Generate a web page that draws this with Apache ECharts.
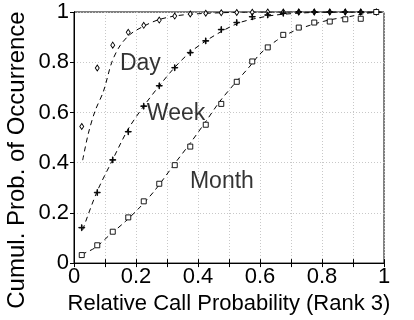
<!DOCTYPE html>
<html>
<head>
<meta charset="utf-8">
<script src="https://cdn.jsdelivr.net/npm/echarts@6/dist/echarts.min.js"></script>
<style>
  html, body { margin: 0; padding: 0; background: #fff; }
  #chart { width: 414px; height: 320px; }
</style>
</head>
<body>
<div id="chart"></div>
<script>
// relative call probability where the markers sit
const probX = [0.025, 0.075, 0.125, 0.175, 0.225, 0.275, 0.325, 0.375, 0.425, 0.475,
               0.525, 0.575, 0.625, 0.675, 0.725, 0.775, 0.825, 0.875, 0.925, 0.975];

const dayObs   = [0.544, 0.777, 0.868, 0.919, 0.947, 0.968, 0.984, 0.992, 0.995, 0.997,
                  0.998, 0.999, 1, 1, 1, 1, 1, 1, 1, 1];
const weekObs  = [0.141, 0.281, 0.411, 0.523, 0.625, 0.706, 0.778, 0.838, 0.885, 0.930,
                  0.958, 0.981, 0.988, 0.995, 1, 1, 1, 1, 1, 1];
const monthObs = [0.032, 0.071, 0.125, 0.182, 0.246, 0.316, 0.390, 0.464, 0.551, 0.634,
                  0.722, 0.803, 0.859, 0.909, 0.938, 0.958, 0.962, 0.971, 0.973, 1.0];

// dashed fit curves
const dayFitX   = [0.028, 0.046, 0.068, 0.095, 0.122, 0.148, 0.181, 0.224, 0.272, 0.33, 0.4, 0.5, 0.6, 0.8, 1.0];
const dayFitY   = [0.41, 0.515, 0.606, 0.684, 0.80, 0.865, 0.911, 0.943, 0.969, 0.985, 0.993, 0.998, 1, 1, 1];
const weekFitX  = [0.028, 0.073, 0.122, 0.175, 0.229, 0.277, 0.326, 0.374, 0.433, 0.487, 0.535, 0.589, 0.65, 0.75, 0.85, 1.0];
const weekFitY  = [0.132, 0.281, 0.405, 0.534, 0.632, 0.709, 0.781, 0.839, 0.891, 0.93, 0.958, 0.975, 0.988, 0.997, 1, 1];
const monthFitX = [0.025, 0.068, 0.116, 0.165, 0.213, 0.261, 0.326, 0.374, 0.423, 0.471, 0.519, 0.568, 0.6, 0.654, 0.707, 0.761, 0.826, 0.89, 0.944, 1.0];
const monthFitY = [0.035, 0.061, 0.113, 0.165, 0.223, 0.29, 0.398, 0.476, 0.560, 0.645, 0.716, 0.785, 0.833, 0.887, 0.923, 0.947, 0.969, 0.982, 0.995, 1.0];

// in-plot labels
const tagNames = ['Day', 'Week', 'Month'];
const tagX = [0.148, 0.235, 0.374];
const tagY = [0.795, 0.595, 0.325];

const FONT = "'Liberation Sans', Arial, Helvetica, sans-serif";
const zip = (xs, ys) => xs.map((x, i) => [x, ys[i]]);

const chart = echarts.init(document.getElementById('chart'), null, { renderer: 'canvas' });

const fitLine = (xs, ys) => ({
  type: 'line', data: zip(xs, ys), showSymbol: false, smooth: 0.3,
  lineStyle: { color: '#000', width: 1, type: [5, 4] }, silent: true, z: 2
});

const obs = (ys, symbol, size, fill) => ({
  type: 'scatter', data: zip(probX, ys), symbol: symbol, symbolSize: size,
  itemStyle: { color: fill, borderColor: '#000', borderWidth: 0.9, opacity: 1 }, z: 3
});

const plusPath = 'path://M-0.5,-5H0.5V-0.5H5V0.5H0.5V5H-0.5V0.5H-5V-0.5H-0.5Z';

const option = {
  backgroundColor: '#fff',
  animation: false,
  textStyle: { fontFamily: FONT },
  grid: { left: 74, top: 12, right: 30, bottom: 51, show: true, borderColor: '#000', borderWidth: 1 },
  graphic: [{
    type: 'text', left: 5, top: 'middle', rotation: Math.PI / 2, silent: true,
    x: 0, y: 6,
    style: { text: 'Cumul. Prob. of Occurrence', fill: '#000', font: "24px " + FONT }
  }],
  xAxis: [{
    type: 'value', min: 0, max: 1, interval: 0.2,
    name: 'Relative Call Probability (Rank 3)', nameLocation: 'middle', nameGap: 22,
    nameTextStyle: { color: '#000', fontSize: 22, fontFamily: FONT },
    axisLine: { show: true, lineStyle: { color: '#000', width: 1 } },
    axisTick: { show: true, inside: true, length: 4, lineStyle: { color: '#000' } },
    minorTick: { show: true, splitNumber: 2, length: 4, lineStyle: { color: '#000' } },
    axisLabel: { color: '#000', fontSize: 22, margin: 3, fontFamily: FONT },
    splitLine: { show: true, lineStyle: { color: '#c8c8c8', type: [1, 2] } },
    minorSplitLine: { show: true, lineStyle: { color: '#c8c8c8', type: [1, 2] } }
  }, {
    type: 'value', min: 0, max: 1, interval: 0.2, position: 'top',
    axisLine: { show: true, lineStyle: { color: '#000' } },
    axisTick: { show: true, inside: true, length: 4, lineStyle: { color: '#000' } },
    minorTick: { show: true, splitNumber: 2, length: 4, lineStyle: { color: '#000' } },
    axisLabel: { show: false }, splitLine: { show: false }
  }],
  yAxis: [{
    type: 'value', min: 0, max: 1, interval: 0.2,
    axisLine: { show: true, lineStyle: { color: '#000', width: 1 } },
    axisTick: { show: true, inside: false, length: 3, lineStyle: { color: '#000' } },
    axisLabel: { color: '#000', fontSize: 22, margin: 5, fontFamily: FONT },
    splitLine: { show: true, lineStyle: { color: '#c8c8c8', type: [1, 2] } }
  }, {
    type: 'value', min: 0, max: 1, interval: 0.2, position: 'right',
    axisLine: { show: true, lineStyle: { color: '#000' } },
    axisTick: { show: true, inside: true, length: 4, lineStyle: { color: '#000' } },
    axisLabel: { show: false }, splitLine: { show: false }
  }],
  series: [
    fitLine(dayFitX, dayFitY),
    fitLine(weekFitX, weekFitY),
    fitLine(monthFitX, monthFitY),
    obs(dayObs, 'diamond', [4, 6], '#fff'),
    obs(weekObs, plusPath, 6, '#000'),
    obs(monthObs, 'rect', 5, '#fff'),
    {
      type: 'scatter', symbolSize: 0, silent: true, z: 4,
      data: tagNames.map((n, i) => ({ value: [tagX[i], tagY[i]], name: n })),
      label: {
        show: true, position: [0, 0], align: 'left', verticalAlign: 'middle',
        formatter: p => p.name, color: '#000', fontSize: 23, fontFamily: FONT
      }
    }
  ]
};

chart.setOption(option);
</script>
</body>
</html>
